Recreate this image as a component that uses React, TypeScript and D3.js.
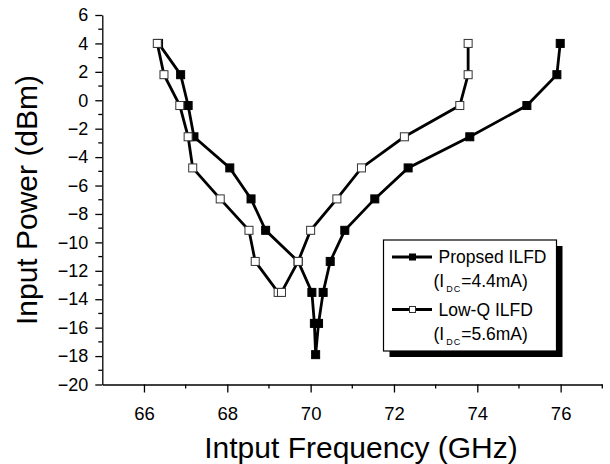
import * as d3 from "d3";
import React, { useRef, useEffect } from "react";

// Propsed ILFD (filled squares), points in drawing order
const propFreq = [66.35, 66.88, 67.06, 67.2, 68.06, 68.57, 68.92, 69.7, 70.03, 70.09, 70.12, 70.19, 70.3, 70.47, 70.82, 71.54, 72.34, 73.82, 75.19, 75.91, 75.99];
const propPower = [4, 1.8, -0.37, -2.57, -4.76, -6.94, -9.15, -11.34, -13.52, -15.7, -17.9, -15.7, -13.52, -11.34, -9.15, -6.94, -4.76, -2.57, -0.37, 1.8, 4];

// Low-Q ILFD (open squares)
const lowqFreq = [66.32, 66.48, 66.86, 67.06, 67.17, 67.83, 68.52, 68.67, 69.22, 69.3, 69.7, 70.0, 70.63, 71.22, 72.25, 73.58, 73.78, 73.78];
const lowqPower = [4, 1.8, -0.37, -2.57, -4.76, -6.94, -9.15, -11.34, -13.52, -13.52, -11.34, -9.15, -6.94, -4.76, -2.57, -0.37, 1.8, 4];

const xTicks = [66, 68, 70, 72, 74, 76];
const yTicks = [6, 4, 2, 0, -2, -4, -6, -8, -10, -12, -14, -16, -18, -20];

const legendNames = ["Propsed ILFD", "Low-Q ILFD"];
const legendCurrents = ["=4.4mA)", "=5.6mA)"];

const FONT = "'Liberation Sans', Arial, sans-serif";

export default function App() {
  const svgRef = useRef(null);

  useEffect(() => {
    const width = 610;
    const height = 464;

    const xScale = d3.scaleLinear().domain([65, 77]).range([102.3, 602.3]);
    const yScale = d3.scaleLinear().domain([-20, 6]).range([384.5, 15]);

    const svg = d3.select(svgRef.current).attr("width", width).attr("height", height);
    svg.selectAll("*").remove();
    svg.append("rect").attr("width", width).attr("height", height).attr("fill", "#fff");

    // y axis
    const yAxis = svg
      .append("g")
      .attr("transform", `translate(${xScale(65)},0)`)
      .call(d3.axisLeft(yScale).tickValues(yTicks).tickSize(7).tickSizeOuter(0).tickPadding(7));
    yAxis.selectAll("text").attr("font-size", 18).attr("font-family", FONT).attr("fill", "#000");
    yAxis.selectAll("line, path").attr("stroke", "#000").attr("stroke-width", 1.3);
    yAxis
      .selectAll(".minor")
      .data(d3.range(-19, 6, 2))
      .enter()
      .append("line")
      .attr("x1", -4)
      .attr("x2", 0)
      .attr("y1", (d) => yScale(d))
      .attr("y2", (d) => yScale(d))
      .attr("stroke", "#000")
      .attr("stroke-width", 1.3);

    // x axis
    const xAxis = svg
      .append("g")
      .attr("transform", `translate(0,${yScale(-20)})`)
      .call(d3.axisBottom(xScale).tickValues(xTicks).tickSize(8).tickSizeOuter(0).tickPadding(14));
    xAxis.selectAll("text").attr("font-size", 18.5).attr("font-family", FONT).attr("fill", "#000");
    xAxis.selectAll("line, path").attr("stroke", "#000").attr("stroke-width", 1.3);
    xAxis
      .selectAll(".minor")
      .data([67, 69, 71, 73, 75, 77])
      .enter()
      .append("line")
      .attr("x1", (d) => xScale(d))
      .attr("x2", (d) => xScale(d))
      .attr("y1", 0)
      .attr("y2", 4)
      .attr("stroke", "#000")
      .attr("stroke-width", 1.3);

    // axis titles
    svg
      .append("text")
      .attr("x", 361)
      .attr("y", 458)
      .attr("text-anchor", "middle")
      .attr("font-family", FONT)
      .attr("font-size", 30)
      .text("Intput Frequency (GHz)");
    svg
      .append("text")
      .attr("transform", "translate(37,200) rotate(-90)")
      .attr("text-anchor", "middle")
      .attr("font-family", FONT)
      .attr("font-size", 30)
      .text("Input Power (dBm)");

    const line = d3
      .line()
      .x((d) => xScale(d[0]))
      .y((d) => yScale(d[1]));

    const series = [
      { pts: propFreq.map((f, i) => [f, propPower[i]]), fill: "#000", stroke: "#000" },
      { pts: lowqFreq.map((f, i) => [f, lowqPower[i]]), fill: "#fff", stroke: "#333" },
    ];

    series.forEach((s) => {
      svg
        .append("path")
        .datum(s.pts)
        .attr("d", line)
        .attr("fill", "none")
        .attr("stroke", "#000")
        .attr("stroke-width", 2.8);
      svg
        .append("g")
        .selectAll("rect")
        .data(s.pts)
        .enter()
        .append("rect")
        .attr("x", (d) => xScale(d[0]) - 4)
        .attr("y", (d) => yScale(d[1]) - 4)
        .attr("width", 8)
        .attr("height", 8)
        .attr("fill", s.fill)
        .attr("stroke", s.stroke)
        .attr("stroke-width", 1);
    });

    // legend
    const lg = svg.append("g").attr("transform", "translate(383.5,240)");
    lg.append("rect").attr("x", 6).attr("y", 6).attr("width", 173).attr("height", 111).attr("fill", "#000");
    lg.append("rect").attr("width", 173).attr("height", 111).attr("fill", "#fff").attr("stroke", "#000").attr("stroke-width", 1.2);

    legendNames.forEach((name, i) => {
      const y0 = 17 + i * 52.5;
      lg.append("line").attr("x1", 8.5).attr("x2", 48.5).attr("y1", y0).attr("y2", y0).attr("stroke", "#000").attr("stroke-width", 2.8);
      lg.append("rect")
        .attr("x", 26)
        .attr("y", y0 - 3)
        .attr("width", 6)
        .attr("height", 6)
        .attr("fill", series[i].fill)
        .attr("stroke", series[i].stroke)
        .attr("stroke-width", 1);
      lg.append("text")
        .attr("x", 55)
        .attr("y", y0 + 6)
        .attr("font-family", FONT)
        .attr("font-size", 17.5)
        .text(name);
      const t = lg
        .append("text")
        .attr("x", 50)
        .attr("y", y0 + 30)
        .attr("font-family", FONT)
        .attr("font-size", 17.5);
      t.append("tspan").text("(I");
      t.append("tspan").attr("font-size", 9).attr("dy", 5).attr("dx", 2).attr("letter-spacing", 1).text("DC");
      t.append("tspan").attr("dy", -5).text(legendCurrents[i]);
    });
  }, []);

  return <svg ref={svgRef} style={{ position: "absolute", left: 0, top: 0 }}></svg>;
}
